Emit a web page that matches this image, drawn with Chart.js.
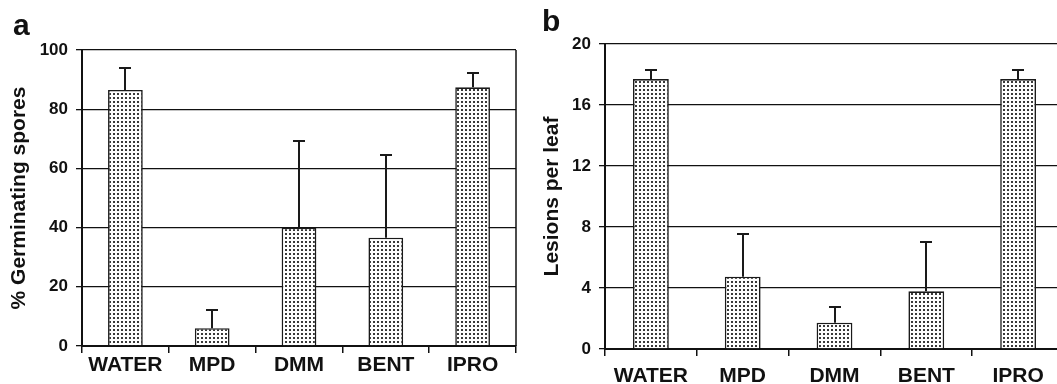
<!DOCTYPE html>
<html>
<head>
<meta charset="utf-8">
<script src="https://cdn.jsdelivr.net/npm/chart.js@4/dist/chart.umd.min.js"></script>
<style>
  html, body { margin: 0; padding: 0; background: #fff; }
  body { width: 1057px; height: 384px; overflow: hidden; position: relative; }
  .panel { position: absolute; top: 0; height: 384px; }
  #panelA { left: 0; width: 530px; }
  #panelB { left: 530px; width: 540px; }
  .tag { position: absolute; font: bold 30px 'Liberation Sans', Arial, sans-serif; color: #111; line-height: 1; }
</style>
</head>
<body>
<div class="panel" id="panelA"><canvas id="chartA" width="530" height="384"></canvas></div>
<div class="panel" id="panelB"><canvas id="chartB" width="540" height="384"></canvas></div>
<div class="tag" style="left:13px; top:10px;">a</div>
<div class="tag" style="left:542px; top:6px;">b</div>
<script>
(function () {
    'use strict';

    var categories = ['WATER', 'MPD', 'DMM', 'BENT', 'IPRO'];

    var germinationValues = [86.5, 6.0, 40.0, 36.6, 87.4];
    var germinationErrors = [7.3, 6.2, 29.4, 27.9, 4.9];
    var germinationTicks = [0, 20, 40, 60, 80, 100];

    var lesionValues = [17.7, 4.74, 1.72, 3.78, 17.7];
    var lesionErrors = [0.57, 2.82, 1.05, 3.24, 0.57];
    var lesionTicks = [0, 4, 8, 12, 16, 20];

    var FONT = "'Liberation Sans', Arial, sans-serif";
    var INK = '#111';

    function dotPattern(ctx) {
        var tile = document.createElement('canvas');
        tile.width = 4;
        tile.height = 4;
        var t = tile.getContext('2d');
        t.fillStyle = '#fff';
        t.fillRect(0, 0, 4, 4);
        t.fillStyle = '#3a3a3a';
        t.fillRect(1, 1, 2, 2);
        return ctx.createPattern(tile, 'repeat');
    }

    // upper error whiskers + right frame line
    var extras = {
        id: 'extras',
        afterDatasetsDraw: function (chart, args, opts) {
            var ctx = chart.ctx;
            var meta = chart.getDatasetMeta(0);
            var y = chart.scales.y;
            var vals = chart.data.datasets[0].data;
            ctx.save();
            ctx.strokeStyle = '#1a1a1a';
            ctx.lineWidth = 2;
            meta.data.forEach(function (bar, i) {
                var top = Math.round(y.getPixelForValue(vals[i] + opts.errors[i]));
                var x = Math.round(bar.x);
                ctx.beginPath();
                ctx.moveTo(x, bar.y);
                ctx.lineTo(x, top);
                ctx.moveTo(x - 6, top);
                ctx.lineTo(x + 6, top);
                ctx.stroke();
            });
            if (opts.frame) {
                var a = chart.chartArea;
                ctx.strokeStyle = INK;
                ctx.lineWidth = 1.5;
                ctx.beginPath();
                ctx.moveTo(a.right, a.top);
                ctx.lineTo(a.right, a.bottom);
                ctx.stroke();
            }
            ctx.restore();
        }
    };

    function makeChart(id, cfg) {
        var el = document.getElementById(id);
        var ctx = el.getContext('2d');
        return new Chart(el, {
            type: 'bar',
            data: {
                labels: categories,
                datasets: [{
                    data: cfg.values,
                    backgroundColor: dotPattern(ctx),
                    borderColor: '#1a1a1a',
                    borderWidth: 1.6,
                    borderSkipped: 'bottom',
                    barPercentage: cfg.barPct,
                    categoryPercentage: 1
                }]
            },
            options: {
                responsive: false,
                animation: false,
                events: [],
                layout: { padding: { top: cfg.top, right: cfg.right, left: 0, bottom: 0 } },
                plugins: {
                    legend: { display: false },
                    tooltip: { enabled: false },
                    extras: { errors: cfg.errors, frame: cfg.frame }
                },
                scales: {
                    x: {
                        offset: true,
                        afterFit: function (s) { s.height = cfg.xHeight; },
                        grid: { offset: true, drawOnChartArea: false, drawTicks: true, tickLength: 7, color: INK, lineWidth: 1.5 },
                        border: { display: true, color: INK, width: 2 },
                        ticks: { color: INK, padding: cfg.xPad, font: { family: FONT, size: 21, weight: 'bold' } }
                    },
                    y: {
                        min: cfg.ticks[0],
                        max: cfg.ticks[cfg.ticks.length - 1],
                        afterFit: function (s) { s.width = cfg.yWidth; },
                        afterBuildTicks: function (s) {
                            s.ticks = cfg.ticks.map(function (v) { return { value: v }; });
                        },
                        grid: { color: INK, lineWidth: 1.3, tickLength: 6 },
                        border: { display: true, color: INK, width: 2 },
                        ticks: { color: INK, padding: 8, font: { family: FONT, size: 17, weight: 'bold' } },
                        title: {
                            display: true,
                            text: cfg.title,
                            color: INK,
                            padding: { top: cfg.titleShift, bottom: 0 },
                            font: { family: FONT, size: 21, weight: 'bold' }
                        }
                    }
                }
            },
            plugins: [extras]
        });
    }

    function init() {
        makeChart('chartA', {
            values: germinationValues,
            errors: germinationErrors,
            ticks: germinationTicks,
            title: '% Germinating spores',
            top: 50, right: 14, yWidth: 82, xHeight: 38, xPad: 0, barPct: 0.4, frame: true, titleShift: 7
        });
        makeChart('chartB', {
            values: lesionValues,
            errors: lesionErrors,
            ticks: lesionTicks,
            title: 'Lesions per leaf',
            top: 44, right: 6, yWidth: 75, xHeight: 35, xPad: 8, barPct: 0.39, frame: false, titleShift: 10
        });
    }

    init();
})();
</script>
</body>
</html>
